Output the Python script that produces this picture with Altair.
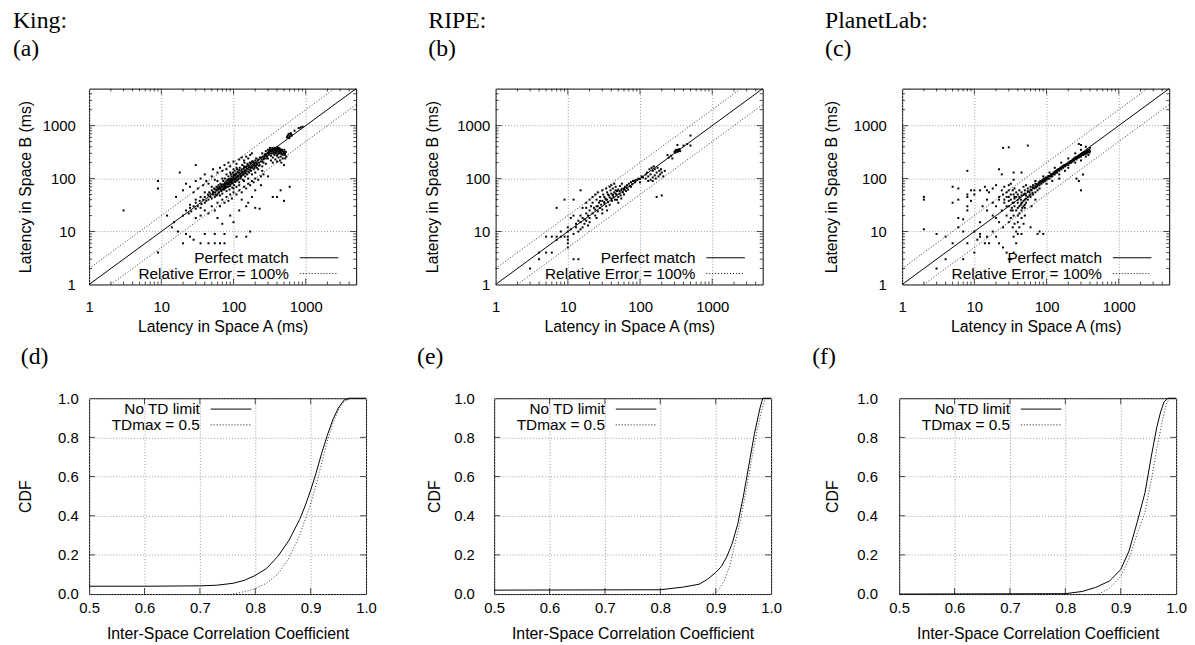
import altair as alt
import pandas as pd

FONT = "Liberation Sans"
SERIF = "Liberation Serif"

# ---------------- data ----------------
log_major = [1, 10, 100, 1000]
log_minor = [2, 3, 4, 5, 6, 7, 8, 9, 20, 30, 40, 50, 60, 70, 80, 90,
             200, 300, 400, 500, 600, 700, 800, 900, 2000, 3000, 4000]
log_inner_major = [10, 100, 1000]

perfect_x = [1, 5000]
perfect_y = [1, 5000]
err_hi_x = [1, 2500]
err_hi_y = [2, 5000]
err_lo_x = [2, 5000]
err_lo_y = [1, 2500]

king_points = [
    (20, 20), (22, 25), (24, 22), (25, 28), (26, 24), (28, 30), (30, 27), (30, 35), (32, 30), (34, 38),
    (35, 28), (36, 33), (38, 40), (40, 35), (40, 45), (42, 38), (44, 50), (45, 40), (46, 55), (48, 45),
    (50, 42), (50, 60), (52, 50), (54, 65), (55, 45), (56, 55), (58, 70), (60, 50), (60, 60), (62, 75),
    (63, 55), (65, 48), (65, 65), (66, 80), (68, 58), (70, 70), (70, 52), (72, 90), (74, 62), (75, 75),
    (76, 100), (78, 66), (80, 80), (80, 58), (82, 95), (84, 70), (85, 110), (86, 85), (88, 62), (90, 90),
    (90, 75), (92, 120), (94, 80), (95, 100), (96, 68), (98, 130), (100, 95), (100, 110), (102, 75), (104, 140),
    (105, 88), (108, 100), (110, 120), (110, 70), (112, 150), (115, 95), (118, 110), (120, 130), (120, 85), (122, 160),
    (125, 100), (128, 140), (130, 115), (132, 180), (135, 95), (138, 150), (140, 125), (142, 200), (145, 110), (148, 165),
    (150, 140), (155, 120), (158, 180), (160, 150), (165, 130), (168, 200), (170, 160), (175, 140), (180, 210), (185, 170),
    (190, 150), (195, 190), (200, 220), (205, 175), (210, 160), (220, 230), (225, 200), (230, 180), (240, 250), (250, 210),
    (260, 230), (270, 260), (280, 240),
    (55, 62), (58, 48), (62, 66), (66, 60), (68, 72), (72, 64), (76, 82), (78, 72), (82, 78), (84, 92),
    (88, 80), (92, 96), (96, 88), (100, 120), (104, 92), (106, 115), (112, 105), (116, 130), (124, 118), (128, 110),
    (134, 135), (140, 160), (146, 130), (152, 170), (162, 175), (172, 185), (178, 165), (188, 200), (198, 175), (212, 195),
    (45, 48), (48, 52), (52, 56), (56, 50), (58, 62), (60, 68), (62, 54), (64, 70), (66, 64), (68, 76),
    (70, 62), (72, 78), (74, 70), (76, 66), (78, 88), (80, 70), (82, 84), (84, 78), (86, 98), (88, 72),
    (90, 100), (92, 86), (94, 110), (96, 92), (98, 82), (100, 104), (102, 118), (104, 98), (106, 86), (108, 125),
    (110, 108), (112, 92), (114, 135), (116, 112), (118, 100), (120, 145), (124, 125), (126, 108), (130, 150), (132, 128),
    (136, 118), (140, 170), (144, 140), (148, 125), (152, 155), (156, 190), (160, 135), (164, 165), (170, 145), (174, 195),
    (180, 160), (186, 210), (190, 180), (196, 160), (200, 200), (206, 240), (210, 185), (216, 220), (224, 175), (232, 250),
    (238, 210), (246, 230), (255, 260), (265, 240), (275, 290), (285, 270), (295, 300), (305, 280), (315, 350), (325, 300),
    (335, 330), (345, 380), (355, 330), (365, 350), (375, 310), (385, 370), (395, 340), (405, 390), (415, 350), (425, 320),
    (435, 370), (445, 300), (455, 350), (465, 290), (475, 330), (490, 300), (505, 350), (515, 280), (530, 320), (540, 260),
    (520, 240), (60, 90), (70, 100), (80, 120), (90, 130), (100, 150), (110, 160), (50, 70), (40, 55), (35, 45),
    (30, 40), (25, 32), (100, 65), (120, 75), (140, 90), (160, 100), (180, 120), (200, 130), (220, 150), (250, 170),
    (20, 60), (22, 80), (25, 70), (28, 55), (30, 90), (32, 65), (35, 100), (38, 75), (40, 120), (42, 90),
    (45, 80), (50, 110), (52, 150), (55, 95), (60, 130), (65, 160), (70, 140), (75, 180), (80, 150), (85, 200),
    (90, 170), (100, 210), (110, 190), (120, 230), (130, 250), (140, 220), (150, 260), (160, 240), (170, 280), (180, 300),
    (30, 18), (35, 20), (40, 25), (45, 22), (50, 30), (55, 25), (60, 35), (65, 30), (70, 40), (75, 35),
    (80, 45), (85, 38), (90, 50), (95, 42), (100, 55), (110, 50), (120, 60), (130, 55), (140, 70), (150, 65),
    (160, 80), (170, 75), (180, 90), (190, 85), (200, 100), (220, 95), (240, 110), (260, 120),
    (250, 300), (270, 280), (280, 330), (290, 260), (300, 310), (300, 350), (310, 290), (320, 330), (320, 380), (330, 270),
    (340, 340), (340, 300), (350, 360), (350, 250), (360, 320), (370, 380), (370, 280), (380, 340), (390, 300), (400, 360),
    (400, 270), (410, 320), (420, 380), (430, 300), (440, 340), (450, 260), (460, 310), (470, 350), (480, 280), (500, 320),
    (520, 300), (380, 230), (400, 210), (420, 250), (440, 220), (460, 200), (350, 200), (330, 220), (480, 240), (500, 180),
    (300, 240), (260, 200), (280, 190), (310, 320), (330, 350), (360, 300), (390, 330), (410, 290), (430, 360), (450, 330),
    (550, 600), (570, 650), (580, 700), (600, 620), (610, 680), (620, 720), (640, 650), (590, 580), (560, 640), (630, 690),
    (700, 800), (800, 900), (900, 950), (850, 920),
    (3, 25), (9, 90), (9, 65), (9, 4), (18, 130), (30, 180), (16, 45), (20, 6), (15, 15), (12, 20),
    (14, 12), (17, 10), (22, 9), (25, 8), (28, 7), (35, 6), (45, 6), (55, 6), (65, 6), (75, 6),
    (40, 9), (55, 9), (75, 9), (110, 8), (150, 8), (170, 10), (200, 28), (230, 27), (120, 25), (100, 15),
    (70, 14), (90, 20), (60, 18), (130, 40), (160, 35), (200, 60), (240, 75), (350, 45), (400, 45), (500, 38),
    (600, 70), (450, 60), (300, 110), (250, 140), (150, 30), (180, 45),
]

ripe_points = [
    (3, 2), (4, 3), (4, 4), (5, 4), (6, 4), (5, 8), (6, 8), (7, 8), (8, 8), (7, 7),
    (9, 8), (8, 10), (10, 10), (10, 6), (10, 7), (10, 5), (10, 8), (10, 12), (11, 11), (12, 3),
    (14, 3), (7, 28), (9, 40), (12, 40), (15, 60), (11, 18), (12, 20), (13, 14), (14, 16), (15, 15),
    (15, 20), (16, 18), (17, 14), (18, 22), (18, 28), (19, 20), (20, 25), (20, 18), (21, 30), (22, 22),
    (22, 35), (23, 28), (24, 20), (25, 40), (25, 30), (26, 24), (27, 35), (28, 45), (28, 28), (29, 32),
    (30, 38), (30, 26), (31, 50), (32, 34), (33, 42), (34, 30), (35, 55), (35, 40), (36, 36), (37, 48),
    (38, 32), (39, 60), (40, 42), (40, 52), (41, 38), (42, 65), (43, 45), (44, 55), (45, 40), (46, 70),
    (47, 50), (48, 58), (50, 45), (50, 62), (52, 52), (53, 72), (54, 48), (55, 60), (56, 80), (58, 55),
    (60, 65), (62, 70), (64, 58), (66, 75), (68, 62), (70, 80), (72, 72), (75, 85), (78, 78), (80, 90),
    (85, 85), (90, 95), (95, 100), (100, 98), (100, 85), (105, 110), (110, 105), (16, 28), (18, 35), (20, 40),
    (22, 45), (24, 50), (26, 55), (28, 38), (30, 60), (32, 45), (34, 65), (36, 50), (38, 70), (40, 75),
    (42, 48), (44, 80), (46, 60), (48, 40), (50, 35), (55, 42), (60, 50), (20, 15), (25, 18), (30, 22),
    (35, 25), (14, 10), (16, 12), (18, 16), (12, 9), (13, 12), (15, 11), (17, 17), (19, 13), (24, 26),
    (26, 30), (32, 36), (34, 40), (38, 44), (42, 50), (46, 52), (52, 58), (56, 64), (65, 68), (75, 70),
    (85, 92), (60, 62), (120, 100), (125, 130), (130, 110), (135, 150), (140, 95), (140, 120), (145, 160), (150, 105),
    (150, 140), (155, 170), (160, 115), (160, 150), (165, 100), (170, 130), (175, 160), (180, 110), (185, 140), (190, 120),
    (195, 150), (200, 130), (210, 110), (220, 140), (130, 90), (150, 90), (120, 120), (170, 45), (200, 48), (250, 250),
    (270, 270), (300, 320), (310, 340), (320, 330), (330, 350), (340, 340), (330, 320), (350, 360), (320, 350), (340, 330),
    (310, 310), (350, 345), (360, 330), (330, 430), (400, 420), (450, 450), (500, 420), (500, 650), (280, 240), (240, 280),
]

planetlab_points = [
    (40, 50), (42, 45), (45, 55), (48, 50), (50, 60), (52, 48), (55, 65), (58, 55), (60, 70), (62, 60),
    (65, 75), (68, 65), (70, 80), (72, 68), (75, 72), (78, 85), (80, 75), (82, 90), (85, 80), (88, 95),
    (90, 85), (92, 100), (95, 90), (98, 105), (100, 95), (105, 110), (110, 100), (115, 120), (120, 110), (125, 130),
    (130, 120), (135, 140), (140, 130), (145, 150), (150, 140), (155, 160), (160, 150), (165, 170), (170, 160), (175, 180),
    (180, 170), (190, 190), (200, 180), (210, 210), (220, 200), (230, 230), (240, 220), (250, 250), (260, 230), (270, 260),
    (280, 250), (290, 280), (300, 260), (310, 300), (320, 280), (330, 310), (340, 290), (350, 320), (360, 300), (370, 340),
    (380, 320), (390, 350), (400, 330), (400, 380), (380, 280), (350, 260), (300, 220), (250, 200), (200, 160), (150, 120),
    (120, 90), (100, 80), (80, 65), (60, 50), (70, 90), (90, 110), (110, 130), (130, 160), (160, 200), (200, 240),
    (250, 300), (300, 350), (350, 400), (280, 450), (300, 430), (260, 100), (300, 60), (280, 90), (320, 120), (150, 100),
    (180, 140), (64, 68), (74, 78), (86, 88), (96, 98), (108, 112), (118, 118), (128, 126), (138, 136), (148, 148),
    (168, 166), (185, 178), (215, 205), (235, 225), (265, 245), (285, 270), (315, 290), (335, 300), (365, 330), (395, 310),
    (45, 48), (50, 52), (55, 58), (60, 62), (65, 68), (70, 72), (75, 78), (80, 82), (85, 88), (90, 92),
    (95, 96), (100, 102), (105, 100), (110, 112), (115, 110), (120, 122), (125, 120), (130, 135), (135, 130), (140, 145),
    (150, 150), (160, 162), (170, 172), (180, 182), (190, 185), (200, 200), (210, 195), (220, 215), (230, 210), (240, 240),
    (250, 235), (260, 255), (270, 250), (280, 270), (290, 265), (300, 290), (310, 280), (320, 300), (330, 290), (340, 320),
    (350, 300), (360, 330), (370, 310), (380, 350), (390, 330), (55, 40), (60, 45), (65, 50), (70, 55), (75, 60),
    (45, 35), (50, 32), (40, 40), (42, 60), (48, 70), (52, 75), (35, 35), (36, 45), (38, 55), (30, 45),
    (32, 50), (34, 25), (42, 22), (46, 28),
    (20, 30), (22, 40), (24, 25), (25, 50), (26, 35), (28, 20), (28, 45), (30, 30), (30, 60), (32, 25),
    (32, 40), (34, 35), (35, 20), (35, 50), (36, 30), (38, 25), (38, 45), (40, 35), (40, 20), (42, 30),
    (44, 40), (45, 25), (46, 35), (48, 30), (50, 40), (50, 28), (52, 35), (55, 45), (30, 15), (32, 18),
    (34, 12), (36, 14), (38, 10), (40, 15), (42, 12), (45, 18), (48, 14), (50, 20), (35, 8), (38, 6),
    (40, 9), (45, 9), (25, 12), (22, 15), (20, 18), (18, 20), (18, 10), (15, 8), (12, 9), (12, 8),
    (10, 10), (11, 7), (14, 6), (16, 6), (10, 50), (12, 60), (14, 70), (15, 40), (16, 55), (18, 65),
    (20, 75), (22, 45), (24, 60), (26, 70), (28, 55), (30, 75), (32, 80), (34, 60), (36, 65), (15, 25),
    (13, 30), (18, 35), (12, 15), (20, 8), (22, 6), (25, 5), (28, 4), (30, 3), (32, 3), (35, 4),
    (26, 40), (28, 30), (30, 38), (33, 28), (36, 42), (40, 28), (44, 32), (48, 38), (52, 42), (58, 48),
    (64, 54), (62, 30), (70, 40), (80, 10), (60, 12), (75, 9), (90, 9),
    (2, 45), (2, 40), (2, 11), (3, 9), (3, 2), (4, 8), (5, 70), (6, 65), (5, 35), (6, 40),
    (7, 3), (8, 140), (8, 50), (8, 45), (9, 38), (6, 18), (7, 17), (8, 25), (5, 6), (4, 3),
    (25, 380), (30, 390), (55, 420), (22, 150), (24, 120), (35, 130), (35, 95), (45, 130), (15, 60), (10, 60),
    (9, 60), (8, 30), (7, 10), (6, 12), (8, 6), (10, 4),
]

cdf_x_values = [0.5, 0.6, 0.7, 0.8, 0.9, 1.0]
cdf_y_values = [0.0, 0.2, 0.4, 0.6, 0.8, 1.0]

king_notd_x = [0.5, 0.6, 0.7, 0.73, 0.76, 0.78, 0.80, 0.82, 0.84, 0.86, 0.88, 0.89, 0.90, 0.91, 0.92, 0.93, 0.94, 0.95, 0.96, 0.97, 1.0]
king_notd_y = [0.04, 0.04, 0.042, 0.045, 0.055, 0.07, 0.095, 0.13, 0.19, 0.27, 0.38, 0.45, 0.53, 0.62, 0.72, 0.81, 0.89, 0.95, 0.99, 1.0, 1.0]
king_td_x = [0.76, 0.78, 0.80, 0.82, 0.84, 0.86, 0.88, 0.89, 0.90, 0.91, 0.92, 0.93, 0.94, 0.95, 0.96, 0.97, 0.975]
king_td_y = [0.0, 0.012, 0.028, 0.055, 0.10, 0.18, 0.30, 0.38, 0.46, 0.56, 0.67, 0.78, 0.87, 0.94, 0.98, 0.995, 1.0]

ripe_notd_x = [0.5, 0.8, 0.84, 0.87, 0.885, 0.90, 0.91, 0.92, 0.93, 0.94, 0.95, 0.96, 0.97, 0.98, 0.985, 1.0]
ripe_notd_y = [0.02, 0.022, 0.035, 0.05, 0.075, 0.11, 0.14, 0.19, 0.26, 0.36, 0.50, 0.66, 0.82, 0.95, 1.0, 1.0]
ripe_td_x = [0.895, 0.905, 0.915, 0.925, 0.935, 0.945, 0.955, 0.965, 0.975, 0.985, 0.99]
ripe_td_y = [0.0, 0.02, 0.065, 0.14, 0.26, 0.38, 0.53, 0.69, 0.84, 0.96, 1.0]

pl_notd_x = [0.5, 0.80, 0.83, 0.855, 0.88, 0.90, 0.915, 0.93, 0.944, 0.955, 0.965, 0.972, 0.978, 0.985, 1.0]
pl_notd_y = [0.0, 0.002, 0.013, 0.034, 0.067, 0.125, 0.22, 0.37, 0.52, 0.70, 0.85, 0.93, 0.98, 1.0, 1.0]
pl_td_x = [0.86, 0.88, 0.90, 0.915, 0.93, 0.944, 0.955, 0.965, 0.975, 0.982, 0.988]
pl_td_y = [0.0, 0.03, 0.09, 0.18, 0.31, 0.42, 0.58, 0.74, 0.88, 0.97, 1.0]

# ---------------- helpers ----------------
SW, SH = 270, 198     # scatter plot area
CW, CH = 280, 198     # cdf plot area
LEG_FS = 15.5


def legend_rows(texts, text_x, line_x0, line_x1, rows):
    one = pd.DataFrame({"k": [0]})
    out = []
    dashes = [None, [1, 2]]
    for i, t in enumerate(texts):
        out.append(alt.Chart(one).mark_text(text=t, align="right", baseline="middle",
                                            font=FONT, fontSize=LEG_FS, color="black")
                   .encode(x=alt.value(text_x), y=alt.value(rows[i])))
        kw = dict(color="black", strokeWidth=1)
        if dashes[i]:
            kw["strokeDash"] = dashes[i]
        out.append(alt.Chart(one).mark_rule(**kw)
                   .encode(x=alt.value(line_x0), x2=alt.value(line_x1), y=alt.value(rows[i])))
    return out


def tick_layers(X, Y, xfield, yfield, xvals_major, xvals_minor, yvals_major, yvals_minor, W, H):
    out = []
    for vals, ln in ((xvals_major, 6), (xvals_minor, 3)):
        if not vals:
            continue
        df = pd.DataFrame({xfield: vals})
        for ypos in (H - ln / 2, ln / 2):
            out.append(alt.Chart(df).mark_tick(size=ln, thickness=1, color="black")
                       .encode(x=X, y=alt.value(ypos)))
    for vals, ln in ((yvals_major, 6), (yvals_minor, 3)):
        if not vals:
            continue
        df = pd.DataFrame({yfield: vals})
        for xpos in (ln / 2, W - ln / 2):
            out.append(alt.Chart(df).mark_tick(size=ln, thickness=1, color="black")
                       .encode(y=Y, x=alt.value(xpos)))
    return out


def scatter_panel(points, title_lines, title_dx, lab_pad, title_pad):
    ext = lab_pad + 33
    X = alt.X("a:Q", scale=alt.Scale(type="log", domain=[1, 5000], nice=False),
              axis=alt.Axis(values=log_major, format="d", title="Latency in Space A (ms)",
                            labelPadding=15, titlePadding=5, minExtent=30, maxExtent=30,
                            labelFlush=False))
    Y = alt.Y("b:Q", scale=alt.Scale(type="log", domain=[1, 5000], nice=False),
              axis=alt.Axis(values=log_major, format="d", title="Latency in Space B (ms)",
                            labelPadding=lab_pad, titlePadding=title_pad,
                            minExtent=ext, maxExtent=ext))
    pts = alt.Chart(pd.DataFrame(points, columns=["a", "b"])).mark_square(
        size=4, color="black", opacity=1).encode(x=X, y=Y)
    perfect = alt.Chart(pd.DataFrame({"a": perfect_x, "b": perfect_y})).mark_line(
        color="black", strokeWidth=1).encode(x=X, y=Y)
    hi = alt.Chart(pd.DataFrame({"a": err_hi_x, "b": err_hi_y})).mark_line(
        color="#333", strokeWidth=1, strokeDash=[1, 2]).encode(x=X, y=Y)
    lo = alt.Chart(pd.DataFrame({"a": err_lo_x, "b": err_lo_y})).mark_line(
        color="#333", strokeWidth=1, strokeDash=[1, 2]).encode(x=X, y=Y)
    ticks = tick_layers(X, Y, "a", "b", log_inner_major, log_minor, log_inner_major, log_minor, SW, SH)
    leg = legend_rows(["Perfect match", "Relative Error = 100%"], 202, 213, 252, [171, 187])
    return alt.layer(pts, perfect, hi, lo, *ticks, *leg).properties(
        width=SW, height=SH,
        title=alt.TitleParams(text=title_lines, anchor="start", frame="group", dx=title_dx,
                              font=SERIF, fontSize=24, fontWeight="normal", lineHeight=28,
                              offset=26, color="black"))


def cdf_panel(nx, ny, tx, ty, title_text, title_dx, lab_pad, title_pad):
    ext = lab_pad + 24
    X = alt.X("c:Q", scale=alt.Scale(domain=[0.5, 1.0], nice=False, zero=False),
              axis=alt.Axis(values=cdf_x_values, format=".1f",
                            title="Inter-Space Correlation Coefficient",
                            labelPadding=7, titlePadding=10, minExtent=22, maxExtent=22,
                            labelFlush=False))
    Y = alt.Y("f:Q", scale=alt.Scale(domain=[0, 1], nice=False),
              axis=alt.Axis(values=cdf_y_values, format=".1f", title="CDF",
                            labelPadding=lab_pad, titlePadding=title_pad,
                            minExtent=ext, maxExtent=ext))
    solid = alt.Chart(pd.DataFrame({"c": nx, "f": ny})).mark_line(
        color="black", strokeWidth=1).encode(x=X, y=Y)
    dotted = alt.Chart(pd.DataFrame({"c": tx, "f": ty})).mark_line(
        color="#333", strokeWidth=1, strokeDash=[1, 2]).encode(x=X, y=Y)
    ticks = tick_layers(X, Y, "c", "f", cdf_x_values[1:-1], [], cdf_y_values[1:-1], [], CW, CH)
    leg = legend_rows(["No TD limit", "TDmax = 0.5"], 112, 123, 164, [11, 27])
    return alt.layer(solid, dotted, *ticks, *leg).properties(
        width=CW, height=CH,
        title=alt.TitleParams(text=title_text, anchor="start", frame="group", dx=title_dx,
                              font=SERIF, fontSize=24, fontWeight="normal",
                              offset=23, color="black"))


pa = scatter_panel(king_points, ["King:", "(a)"], -77, 14, 9)
pb = scatter_panel(ripe_points, ["RIPE:", "(b)"], -68, 6, 17)
pc = scatter_panel(planetlab_points, ["PlanetLab:", "(c)"], -78, 16, 14)

pd_ = cdf_panel(king_notd_x, king_notd_y, king_td_x, king_td_y, "(d)", -69, 11, 21)
pe = cdf_panel(ripe_notd_x, ripe_notd_y, ripe_td_x, ripe_td_y, "(e)", -78, 20, 8)
pf = cdf_panel(pl_notd_x, pl_notd_y, pl_td_x, pl_td_y, "(f)", -88, 22, 13)

top = alt.hconcat(pa, pb, pc, spacing=141, bounds="flush")
bottom = alt.hconcat(pd_, pe, pf, spacing=129.5, bounds="flush")

chart = alt.vconcat(top, bottom, spacing=8).properties(
    padding={"left": 4, "top": -3, "right": 0, "bottom": 0},
    background="white",
).configure_view(
    stroke="black", strokeWidth=1
).configure_axis(
    labelFont=FONT, titleFont=FONT, labelColor="black", titleColor="black",
    titleFontWeight="normal", labelFontSize=15, titleFontSize=16,
    domain=False, ticks=False, tickSize=0, grid=True, gridColor="#9a9a9a",
    gridDash=[1, 2], gridWidth=1, labelOverlap=False
)

chart.save("out.html", embed_options={"renderer": "svg", "actions": False})
